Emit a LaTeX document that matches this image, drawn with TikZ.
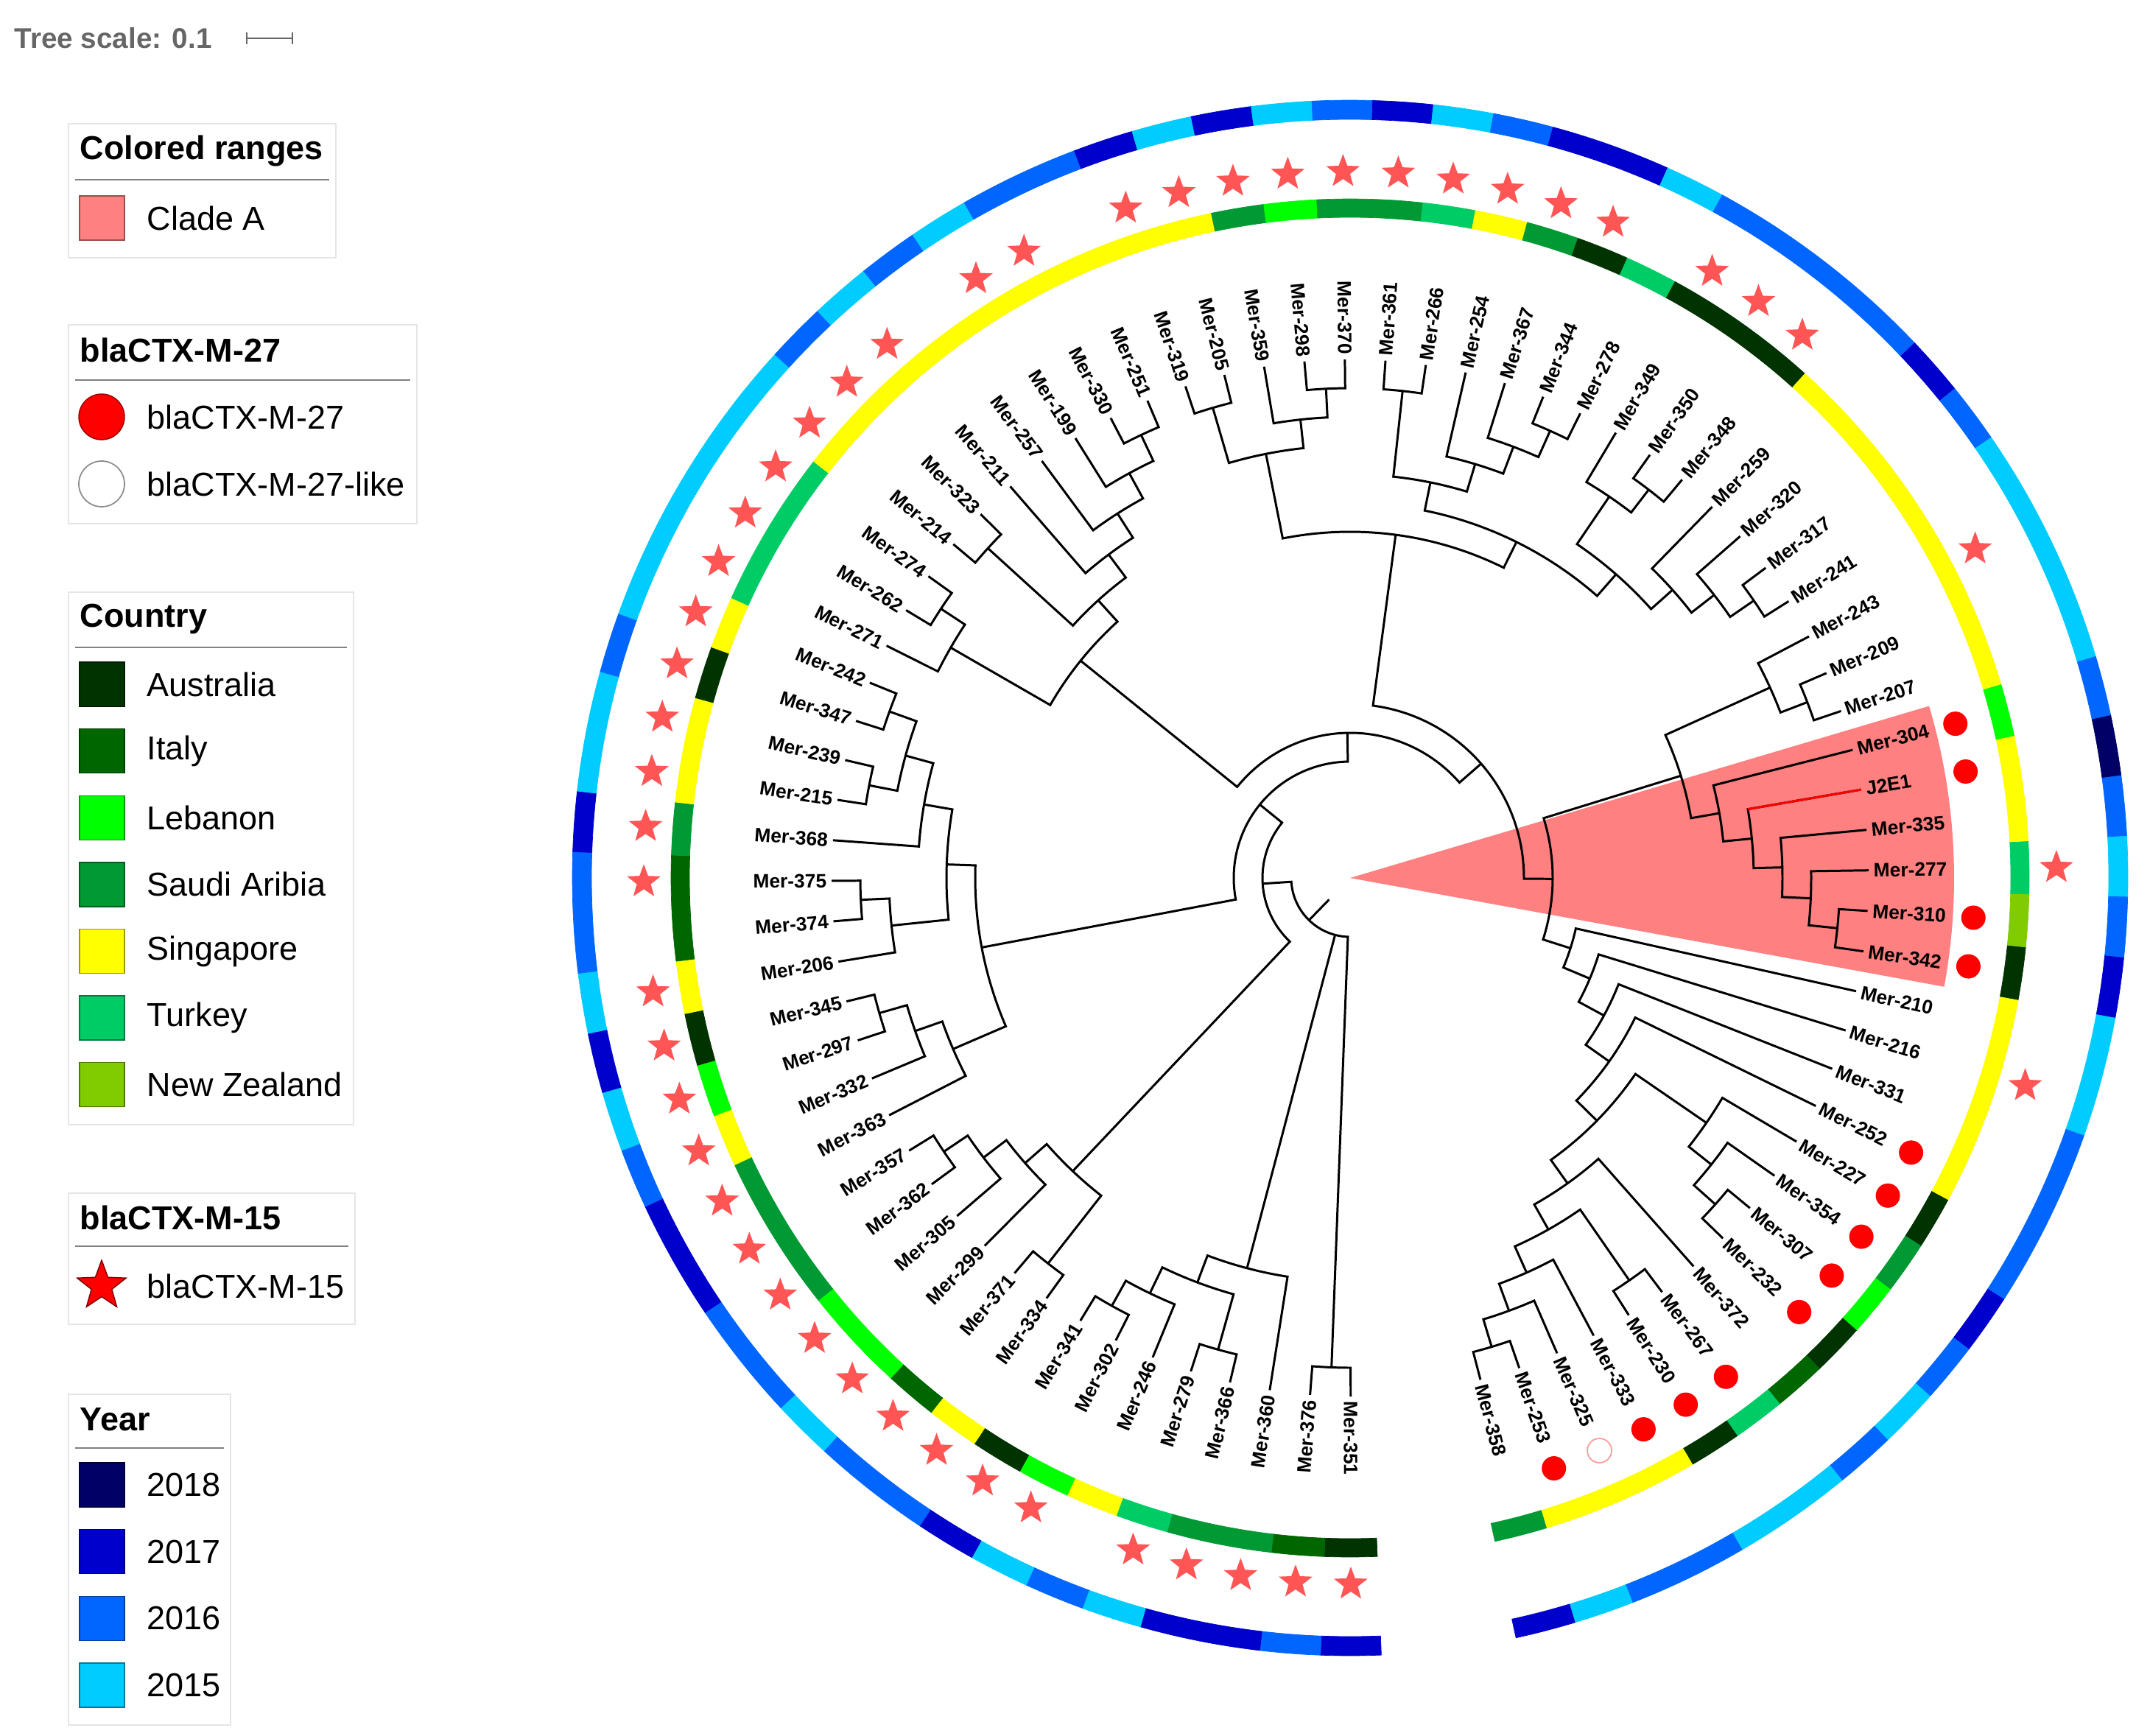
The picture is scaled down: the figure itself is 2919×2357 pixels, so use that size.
\documentclass[tikz,border=0pt]{standalone}
\usepackage{fontspec}
\setmainfont{Liberation Sans}
\usetikzlibrary{shapes.geometric}

\definecolor{cAus}{HTML}{003300}
\definecolor{cIta}{HTML}{006600}
\definecolor{cLeb}{HTML}{00FF00}
\definecolor{cSau}{HTML}{009933}
\definecolor{cSin}{HTML}{FFFF00}
\definecolor{cTur}{HTML}{00CC66}
\definecolor{cNzl}{HTML}{80CC00}
\definecolor{yr18}{HTML}{000066}
\definecolor{yr17}{HTML}{0000CC}
\definecolor{yr16}{HTML}{0066FF}
\definecolor{yr15}{HTML}{00CCFF}
\definecolor{cladeA}{HTML}{FF8080}
\definecolor{starred}{HTML}{FF5555}

\tikzset{
  branch/.style={line width=0.85pt},
  leaflab/.style={font=\fontsize{7.5}{9}\selectfont\bfseries, inner sep=1.2pt},
  mstar/.style={star, star points=5, star point ratio=2.4, minimum size=4.8mm, inner sep=0pt, fill=starred},
  mdot/.style={circle, minimum size=3.3mm, inner sep=0pt, fill=red},
  legbox/.style={draw=black!10, line width=0.5pt},
  legline/.style={draw=black!50, line width=0.6pt},
  legtitle/.style={font=\fontsize{12.8}{15}\selectfont\bfseries, anchor=west, inner sep=0pt},
  legtext/.style={font=\fontsize{12.8}{15}\selectfont, anchor=west, inner sep=0pt}
}

% first child angle, its radius, last child angle, its radius, radius of the clade
\newcommand{\clade}[5]{%
  \draw[branch] (#1:#2) -- (#1:#5) arc[start angle=#1, end angle=#3, radius=#5*0.1mm] -- (#3:#4);}

\begin{document}
\begin{tikzpicture}[x=0.1mm,y=0.1mm]
\useasboundingbox (0,0) rectangle (2919,-2357);

\node[font=\fontsize{11}{13}\selectfont\bfseries, text=black!60, anchor=west, inner sep=0pt] (tscale) at (19,-52) {Tree scale: 0.1};
\draw[black!60, line width=0.8pt] (335,-52) -- (397,-52) (335,-44) -- (335,-60) (397,-44) -- (397,-60);

% legends
\draw[legbox] (93,-168) rectangle (456,-350);
\node[legtitle] (rngT) at (108,-205) {Colored ranges};
\draw[legline] (102,-244) -- (447,-244);
\draw[fill=cladeA, draw=cladeA!60!black, line width=0.4pt] (108,-266) rectangle (169,-326);
\node[legtext] (rngA) at (199,-296) {Clade A};

\draw[legbox] (93,-441) rectangle (566,-711);
\node[legtitle] (m27T) at (108,-475) {blaCTX-M-27};
\draw[legline] (102,-516) -- (557,-516);
\node[circle, fill=red, draw=red!60!black, line width=0.4pt, minimum size=6.2mm, inner sep=0pt] (m27dot) at (138,-566) {};
\node[legtext] (m27a) at (199,-566) {blaCTX-M-27};
\node[circle, fill=white, draw=black!45, line width=0.5pt, minimum size=6.2mm, inner sep=0pt] (m27like) at (138,-657) {};
\node[legtext] (m27b) at (199,-657) {blaCTX-M-27-like};

\draw[legbox] (93,-804) rectangle (480,-1527);
\node[legtitle] (ctyT) at (108,-840) {Country};
\draw[legline] (102,-879) -- (471,-879);
\foreach \c/\t [count=\k] in {cAus/Australia, cIta/Italy, cLeb/Lebanon, cSau/Saudi Aribia, cSin/Singapore, cTur/Turkey, cNzl/New Zealand}{
  \pgfmathsetmacro\y{-929-(\k-1)*90.6}
  \draw[fill=\c, draw=\c!60!black, line width=0.4pt] (108,\y+30) rectangle (169,\y-30);
  \node[legtext] (cty\k) at (199,\y) {\t};
}

\draw[legbox] (93,-1620) rectangle (482,-1798);
\node[legtitle] (m15T) at (108,-1653) {blaCTX-M-15};
\draw[legline] (102,-1692) -- (473,-1692);
\node[mstar, fill=red, draw=red!50!black, line width=0.4pt, minimum size=7mm] (m15star) at (138,-1746) {};
\node[legtext] (m15a) at (199,-1746) {blaCTX-M-15};

\draw[legbox] (93,-1893) rectangle (313,-2342);
\node[legtitle] (yrT) at (108,-1927) {Year};
\draw[legline] (102,-1966) -- (304,-1966);
\foreach \c/\t [count=\k] in {yr18/2018, yr17/2017, yr16/2016, yr15/2015}{
  \pgfmathsetmacro\y{-2016-(\k-1)*90.7}
  \draw[fill=\c, draw=\c!60!black, line width=0.4pt] (108,\y+30) rectangle (169,\y-30);
  \node[legtext] (yr\k) at (199,\y) {\t};
}

\begin{scope}[shift={(1833,-1192)}]
\fill[cladeA] (0,0) -- (16.54:820) arc[start angle=16.54, end angle=-10.38, radius=82mm] -- cycle;

% tree
\clade{270.06}{704}{265.57}{704}{665}
\clade{238.65}{704}{243.13}{704}{665}
\clade{240.89}{665}{247.62}{704}{626}
\clade{252.11}{704}{256.60}{704}{665}
\clade{244.26}{626}{254.36}{665}{587}
\clade{249.31}{587}{261.08}{704}{548}
\clade{211.73}{704}{216.21}{704}{665}
\clade{213.97}{665}{220.70}{704}{626}
\clade{217.34}{626}{225.19}{704}{587}
\clade{229.67}{704}{234.16}{704}{665}
\clade{221.26}{587}{231.92}{665}{548}
\clade{193.78}{704}{198.26}{704}{665}
\clade{196.02}{665}{202.75}{704}{626}
\clade{199.39}{626}{207.24}{704}{587}
\clade{180.32}{704}{184.80}{704}{665}
\clade{182.56}{665}{189.29}{704}{626}
\clade{166.86}{704}{171.34}{704}{665}
\clade{157.88}{704}{162.37}{704}{665}
\clade{160.13}{665}{169.10}{665}{626}
\clade{164.61}{626}{175.83}{704}{587}
\clade{170.22}{587}{185.93}{626}{548}
\clade{178.08}{548}{203.31}{587}{509}
\clade{144.42}{704}{148.91}{704}{665}
\clade{146.66}{665}{153.39}{704}{626}
\clade{135.45}{704}{139.93}{704}{665}
\clade{113.01}{704}{117.50}{704}{665}
\clade{115.26}{665}{121.99}{704}{626}
\clade{118.62}{626}{126.47}{704}{587}
\clade{122.55}{587}{130.96}{704}{548}
\clade{126.75}{548}{137.69}{665}{509}
\clade{132.22}{509}{150.03}{626}{470}
\clade{90.58}{704}{95.06}{704}{665}
\clade{92.82}{665}{99.55}{704}{626}
\clade{104.04}{704}{108.52}{704}{665}
\clade{96.19}{626}{106.28}{665}{587}
\clade{81.60}{704}{86.09}{704}{665}
\clade{63.65}{704}{68.14}{704}{665}
\clade{65.90}{665}{72.63}{704}{626}
\clade{69.26}{626}{77.12}{704}{587}
\clade{73.19}{587}{83.85}{665}{548}
\clade{50.19}{704}{54.68}{704}{665}
\clade{52.44}{665}{59.17}{704}{626}
\clade{32.25}{704}{36.73}{704}{665}
\clade{34.49}{665}{41.22}{704}{626}
\clade{37.86}{626}{45.71}{704}{587}
\clade{41.78}{587}{55.80}{626}{548}
\clade{48.79}{548}{78.52}{548}{509}
\clade{63.66}{509}{101.23}{587}{470}
\clade{18.78}{704}{23.27}{704}{665}
\clade{21.03}{665}{27.76}{704}{626}
\clade{-8.14}{704}{-3.65}{704}{665}
\clade{-5.89}{665}{0.84}{704}{626}
\clade{-2.53}{626}{5.32}{704}{587}
\clade{1.40}{587}{9.81}{704}{548}
\clade{5.60}{548}{14.30}{704}{509}
\clade{9.95}{509}{24.39}{626}{470}
\clade{-44.03}{704}{-39.55}{704}{665}
\clade{-41.79}{665}{-35.06}{704}{626}
\clade{-38.43}{626}{-30.57}{704}{587}
\clade{-75.44}{704}{-70.96}{704}{665}
\clade{-73.20}{665}{-66.47}{704}{626}
\clade{-69.84}{626}{-61.98}{704}{587}
\clade{-57.49}{704}{-53.01}{704}{665}
\clade{-65.91}{587}{-55.25}{665}{548}
\clade{-60.58}{548}{-48.52}{704}{509}
\clade{-54.55}{509}{-34.50}{587}{470}
\clade{-44.53}{470}{-26.09}{704}{431}
\clade{-35.31}{431}{-21.60}{704}{392}
\clade{-28.46}{392}{-17.11}{704}{353}
\clade{-22.78}{353}{-12.62}{704}{314}
\clade{-17.70}{314}{17.17}{470}{275}
\clade{-0.27}{275}{82.44}{470}{236}
\clade{41.09}{236}{141.13}{470}{197}
\clade{91.11}{197}{190.69}{509}{158}
\clade{140.90}{158}{226.59}{548}{119}
\clade{183.75}{119}{267.82}{665}{80}
\draw[branch] (255.20:80) -- (255.20:548);
\draw[branch] (225.79:80) -- (225.79:41);
\draw[branch, red] (9.81:548) -- (9.81:704);

% leaf names
\foreach \lab [count=\i] in {Mer-351, Mer-376, Mer-360, Mer-366, Mer-279, Mer-246, Mer-302, Mer-341, Mer-334, Mer-371,
  Mer-299, Mer-305, Mer-362, Mer-357, Mer-363, Mer-332, Mer-297, Mer-345, Mer-206, Mer-374,
  Mer-375, Mer-368, Mer-215, Mer-239, Mer-347, Mer-242, Mer-271, Mer-262, Mer-274, Mer-214,
  Mer-323, Mer-211, Mer-257, Mer-199, Mer-330, Mer-251, Mer-319, Mer-205, Mer-359, Mer-298,
  Mer-370, Mer-361, Mer-266, Mer-254, Mer-367, Mer-344, Mer-278, Mer-349, Mer-350, Mer-348,
  Mer-259, Mer-320, Mer-317, Mer-241, Mer-243, Mer-209, Mer-207, Mer-304, J2E1, Mer-335,
  Mer-277, Mer-310, Mer-342, Mer-210, Mer-216, Mer-331, Mer-252, Mer-227, Mer-354, Mer-307,
  Mer-232, Mer-372, Mer-267, Mer-230, Mer-333, Mer-325, Mer-253, Mer-358}{
  \pgfmathsetmacro\a{272.3-(\i-0.5)*4.487}
  \ifnum\i>1 \ifnum\i<42
    \node[leaflab, anchor=east, rotate=\a+180] (leaf\i) at (\a:706) {\lab};
  \else
    \node[leaflab, anchor=west, rotate=\a] (leaf\i) at (\a:706) {\lab};
  \fi\else
    \node[leaflab, anchor=west, rotate=\a] (leaf\i) at (\a:706) {\lab};
  \fi
}

% blaCTX-M-27
\foreach \i in {58,59,62,63,67,68,69,70,71,73,74,75,77}{
  \pgfmathsetmacro\a{272.3-(\i-0.5)*4.487}
  \node[mdot] (dot\i) at (\a:848) {};
}
\node[circle, minimum size=3.3mm, inner sep=0pt, draw=red!40, line width=0.5pt] (dot76) at (-66.47:848) {};

% country
\foreach \c [count=\i] in {cAus,cIta,cSau,cSau,cTur,cSin,cLeb,cAus,cSin,cIta,
  cLeb,cLeb,cSau,cSau,cSau,cSin,cLeb,cAus,cSin,cIta,
  cIta,cSau,cSin,cSin,cAus,cSin,cTur,cTur,cTur,cSin,
  cSin,cSin,cSin,cSin,cSin,cSin,cSin,cSin,cSau,cLeb,
  cSau,cSau,cTur,cSin,cSau,cAus,cTur,cAus,cAus,cAus,
  cSin,cSin,cSin,cSin,cSin,cSin,cSin,cLeb,cSin,cSin,
  cTur,cNzl,cAus,cSin,cSin,cSin,cSin,cAus,cSau,cLeb,
  cAus,cIta,cTur,cAus,cSin,cSin,cSin,cSau}{
  \pgfmathsetmacro\a{272.3-(\i-0.5)*4.487}
  \filldraw[\c, line width=0.2pt] ({\a+2.2435}:897) arc[start angle=\a+2.2435, end angle=\a-2.2435, radius=89.7mm]
    -- ({\a-2.2435}:922) arc[start angle=\a-2.2435, end angle=\a+2.2435, radius=92.2mm] -- cycle;
}

% blaCTX-M-15
\foreach \i in {1,2,3,4,5,7,8,9,10,11,12,13,14,15,16,17,18,19,21,22,23,24,25,26,27,28,29,30,31,32,34,35,
  37,38,39,40,41,42,43,44,45,46,48,49,50,55,61,65}{
  \pgfmathsetmacro\a{272.3-(\i-0.5)*4.487}
  \node[mstar] (star\i) at (\a:959) {};
}

% year
\foreach \c [count=\i] in {yr17,yr16,yr17,yr17,yr15,yr16,yr15,yr17,yr16,yr16,
  yr15,yr16,yr16,yr17,yr17,yr16,yr15,yr17,yr15,yr16,
  yr16,yr17,yr15,yr15,yr16,yr15,yr15,yr15,yr15,yr15,
  yr16,yr15,yr16,yr15,yr16,yr16,yr17,yr15,yr17,yr15,
  yr16,yr17,yr15,yr16,yr17,yr17,yr15,yr16,yr16,yr16,
  yr16,yr17,yr16,yr15,yr15,yr15,yr15,yr16,yr18,yr16,
  yr15,yr16,yr17,yr15,yr15,yr16,yr16,yr16,yr17,yr16,
  yr15,yr16,yr15,yr15,yr16,yr16,yr15,yr17}{
  \pgfmathsetmacro\a{272.3-(\i-0.5)*4.487}
  \filldraw[\c, line width=0.2pt] ({\a+2.2435}:1030) arc[start angle=\a+2.2435, end angle=\a-2.2435, radius=103mm]
    -- ({\a-2.2435}:1056) arc[start angle=\a-2.2435, end angle=\a+2.2435, radius=105.6mm] -- cycle;
}
\end{scope}
\end{tikzpicture}
\end{document}
